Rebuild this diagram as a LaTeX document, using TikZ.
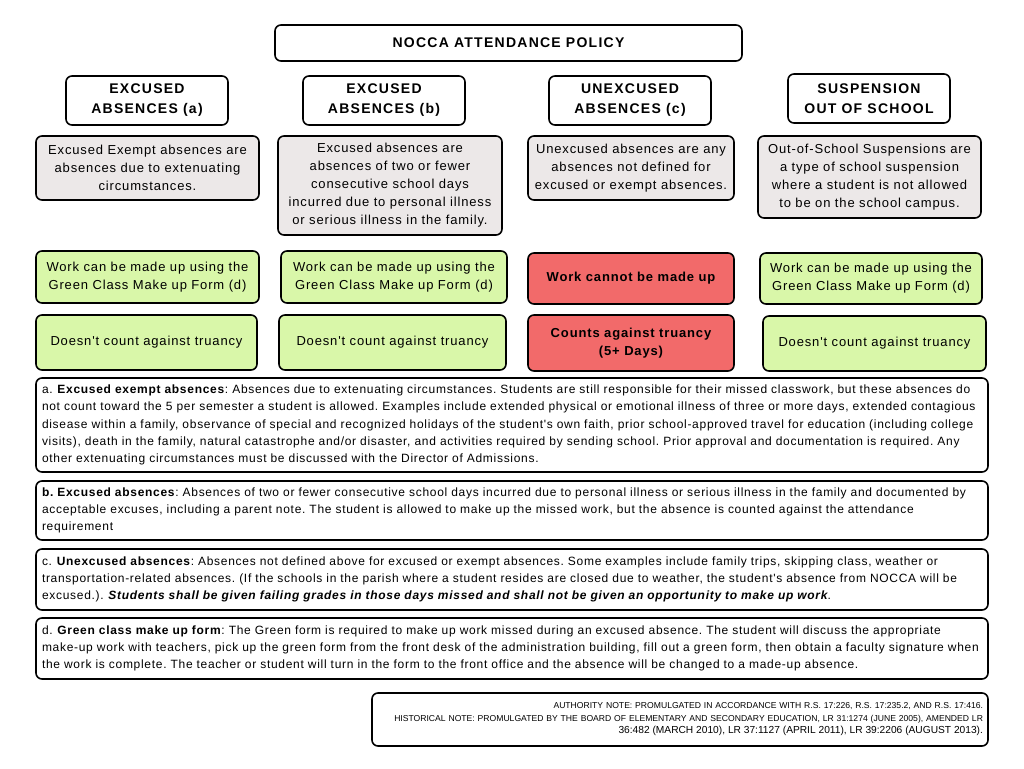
\documentclass[tikz,border=0pt]{standalone}
\usepackage{fontspec}
\setmainfont{Liberation Sans}
\newfontfamily\spaced[LetterSpace=6.5]{Liberation Sans}
\newfontfamily\boldspaced[LetterSpace=9]{Liberation Sans}
\newfontfamily\notefont[LetterSpace=5.9]{Liberation Sans}
\definecolor{grayfill}{HTML}{ECE8E8}
\definecolor{greenfill}{HTML}{D9F7A9}
\definecolor{redfill}{HTML}{F26A6A}
\begin{document}
\frenchspacing
\begin{tikzpicture}[x=1pt,y=-1pt,
  box/.style={draw=black, line width=1.6pt, rounded corners=6pt, inner sep=0pt, align=center},
  hdr/.style={box, fill=white, font=\fontsize{14}{20}\selectfont\boldspaced\bfseries},
  desc/.style={box, fill=grayfill, font=\fontsize{13}{18}\selectfont\spaced},
  grn/.style={box, fill=greenfill, font=\fontsize{13}{18}\selectfont\spaced},
  red/.style={box, fill=redfill, font=\fontsize{13}{18}\selectfont\spaced\bfseries},
  note/.style={box, fill=white, align=left, text width=940pt, font=\fontsize{12}{17.3}\selectfont\notefont\frenchspacing},
]
\useasboundingbox (0,0) rectangle (1024,768);
% title
\node[hdr, minimum width=467pt, minimum height=36pt] (title) at (508.5,43) {NOCCA ATTENDANCE POLICY};
% headers
\node[hdr, minimum width=162pt, minimum height=49pt] (ha) at (147,100.5) {EXCUSED\\ABSENCES (a)};
\node[hdr, minimum width=162pt, minimum height=49pt] (hb) at (384,100.5) {EXCUSED\\ABSENCES (b)};
\node[hdr, minimum width=162pt, minimum height=49pt] (hc) at (630,100.5) {UNEXCUSED\\ABSENCES (c)};
\node[hdr, minimum width=162pt, minimum height=49pt] (hd) at (869,98.5) {SUSPENSION\\OUT OF SCHOOL};
% descriptions
\node[desc, minimum width=223pt, minimum height=64pt] (da) at (147.5,168) {Excused Exempt absences are\\absences due to extenuating\\circumstances.};
\node[desc, minimum width=224pt, minimum height=99pt] (db) at (390,185.5) {Excused absences are\\absences of two or fewer\\consecutive school days\\incurred due to personal illness\\or serious illness in the family.};
\node[desc, minimum width=206pt, minimum height=64pt] (dc) at (631,168) {Unexcused absences are any\\absences not defined for\\excused or exempt absences.};
\node[desc, minimum width=223pt, minimum height=82pt] (dd) at (869.5,177) {Out-of-School Suspensions are\\a type of school suspension\\where a student is not allowed\\to be on the school campus.};
% make up row
\node[grn, minimum width=223pt, minimum height=52pt] (ma) at (147.5,277) {Work can be made up using the\\Green Class Make up Form (d)};
\node[grn, minimum width=226pt, minimum height=52pt] (mb) at (394,277) {Work can be made up using the\\Green Class Make up Form (d)};
\node[red, minimum width=206pt, minimum height=51pt] (mc) at (631,278.5) {Work cannot be made up};
\node[grn, minimum width=222pt, minimum height=51pt] (md) at (871,278.5) {Work can be made up using the\\Green Class Make up Form (d)};
% truancy row
\node[grn, minimum width=221pt, minimum height=55pt] (ta) at (146.5,342.5) {Doesn't count against truancy};
\node[grn, minimum width=227pt, minimum height=55pt] (tb) at (392.5,342.5) {Doesn't count against truancy};
\node[red, minimum width=206pt, minimum height=56pt] (tc) at (631,343) {Counts against truancy\\(5+ Days)};
\node[grn, minimum width=223pt, minimum height=55pt] (td) at (874.5,343.5) {Doesn't count against truancy};
% notes
\node[note, minimum width=952pt, minimum height=94pt] (na) at (512,425) {a. \textbf{Excused exempt absences}: Absences due to extenuating circumstances. Students are still responsible for their missed classwork, but these absences do\\not count toward the 5 per semester a student is allowed. Examples include extended physical or emotional illness of three or more days, extended contagious\\disease within a family, observance of special and recognized holidays of the student's own faith, prior school-approved travel for education (including college\\visits), death in the family, natural catastrophe and/or disaster, and activities required by sending school. Prior approval and documentation is required. Any\\other extenuating circumstances must be discussed with the Director of Admissions.};
\node[note, minimum width=952pt, minimum height=59pt] (nb) at (512,510.5) {\textbf{b. Excused absences}: Absences of two or fewer consecutive school days incurred due to personal illness or serious illness in the family and documented by\\acceptable excuses, including a parent note. The student is allowed to make up the missed work, but the absence is counted against the attendance\\requirement};
\node[note, minimum width=952pt, minimum height=61pt] (nc) at (512,579.5) {c. \textbf{Unexcused absences}: Absences not defined above for excused or exempt absences. Some examples include family trips, skipping class, weather or\\transportation-related absences. (If the schools in the parish where a student resides are closed due to weather, the student's absence from NOCCA will be\\excused.). \textbf{\itshape Students shall be given failing grades in those days missed and shall not be given an opportunity to make up work}.};
\node[note, minimum width=952pt, minimum height=61pt] (nd) at (512,648.5) {d. \textbf{Green class make up form}: The Green form is required to make up work missed during an excused absence. The student will discuss the appropriate\\make-up work with teachers, pick up the green form from the front desk of the administration building, fill out a green form, then obtain a faculty signature when\\the work is complete. The teacher or student will turn in the form to the front office and the absence will be changed to a made-up absence.};
% authority note
\node[box, fill=white, minimum width=616pt, minimum height=53pt, align=right, text width=606pt, font=\fontsize{8.6}{12.5}\selectfont] (auth) at (680,719.5) {AUTHORITY NOTE: PROMULGATED IN ACCORDANCE WITH R.S. 17:226, R.S. 17:235.2, AND R.S. 17:416.\\HISTORICAL NOTE: PROMULGATED BY THE BOARD OF ELEMENTARY AND SECONDARY EDUCATION, LR 31:1274 (JUNE 2005), AMENDED LR\\{\fontsize{10.2}{12.5}\selectfont 36:482 (MARCH 2010), LR 37:1127 (APRIL 2011), LR 39:2206 (AUGUST 2013).}};
\end{tikzpicture}
\end{document}
